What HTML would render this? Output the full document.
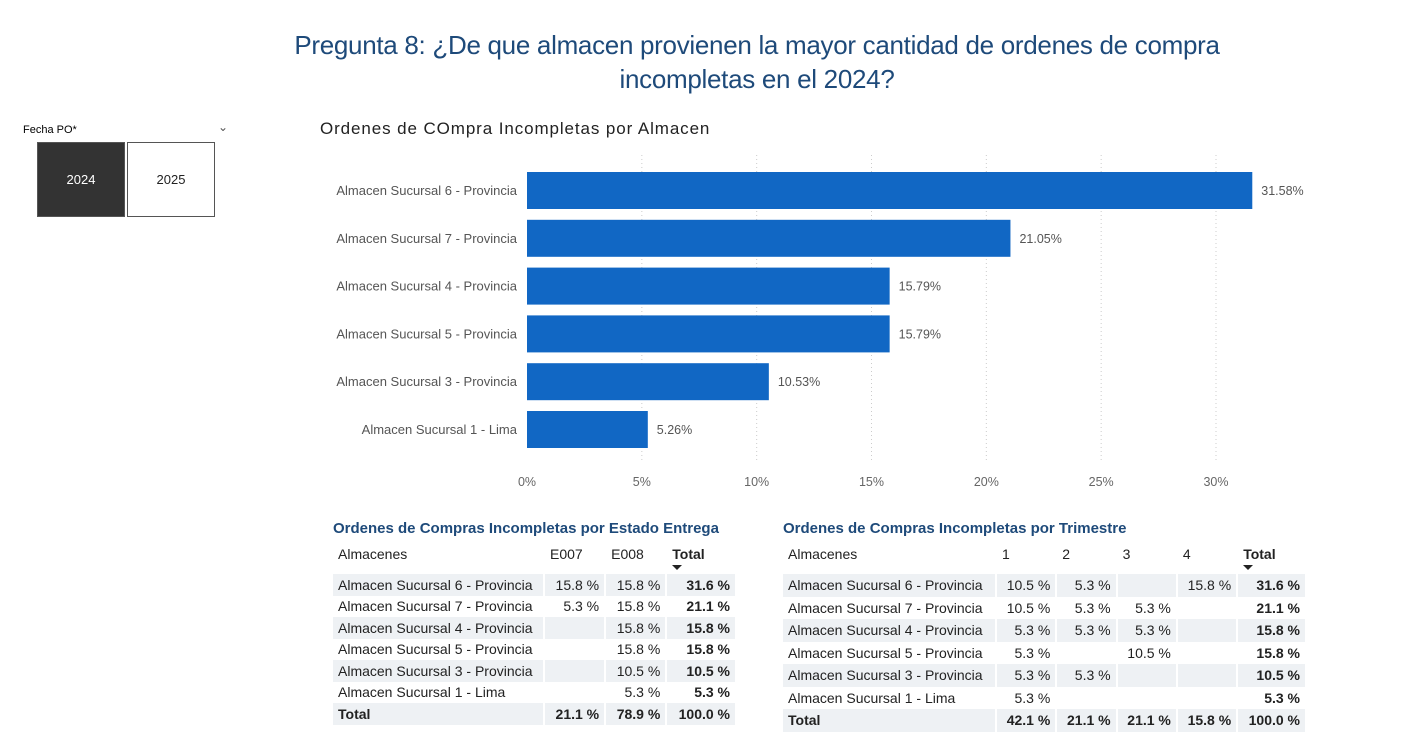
<!DOCTYPE html>
<html><head><meta charset="utf-8"><style>
body{margin:0;width:1415px;height:747px;background:#fff;font-family:"Liberation Sans",sans-serif;position:relative;overflow:hidden}
.abs{position:absolute}
h1{position:absolute;left:240px;width:1034px;top:28px;margin:0;text-align:center;font-weight:normal;font-size:26px;line-height:34px;color:#1e4a7a;letter-spacing:-0.3px}
.slbtn{position:absolute;top:142px;width:86px;height:73px;border:1px solid #555;display:flex;align-items:center;justify-content:center;font-size:13px}
table{position:absolute;border-collapse:collapse;font-size:14px;color:#222}
td{padding:0 5px;white-space:nowrap;text-align:right;border-right:2px solid #fff}
td:first-child{text-align:left}
tr.s td{background:#eef1f4}
tr.h td{height:28px;vertical-align:top;padding-top:2px}
.b{font-weight:bold}
.tt{position:absolute;font-weight:bold;font-size:15px;color:#1e4a7a}
.arr{display:block;width:0;height:0;border-left:5px solid transparent;border-right:5px solid transparent;border-top:5px solid #222;margin-top:3px}
</style></head><body>
<h1>Pregunta 8: ¿De que almacen provienen la mayor cantidad de ordenes de compra incompletas en el 2024?</h1>
<div class="abs" style="left:23px;top:124px;font-size:11px">Fecha PO*</div>
<div class="abs" style="left:218px;top:120px;font-size:12px;color:#555">&#8964;</div>
<div class="slbtn" style="left:37px;background:#333;color:#fff">2024</div>
<div class="slbtn" style="left:127px;background:#fff;color:#222">2025</div>
<div class="abs" style="left:320px;top:119px;font-size:17px;color:#222;letter-spacing:0.9px">Ordenes de COmpra Incompletas por Almacen</div>
<svg class="abs" style="left:0;top:0" width="1415" height="500" id="ch"></svg>
<script>
const cats=["Almacen Sucursal 6 - Provincia","Almacen Sucursal 7 - Provincia","Almacen Sucursal 4 - Provincia","Almacen Sucursal 5 - Provincia","Almacen Sucursal 3 - Provincia","Almacen Sucursal 1 - Lima"];
const vals=[31.58,21.05,15.79,15.79,10.53,5.26];
const ticks=[0,5,10,15,20,25,30];
const NS="http://www.w3.org/2000/svg";
const svg=document.getElementById('ch');
const x=v=>527+v*(1216-527)/30;
const y=i=>172+i*47.8;
function mk(t,a,txt){const e=document.createElementNS(NS,t);for(const k in a)e.setAttribute(k,a[k]);if(txt!=null)e.textContent=txt;svg.appendChild(e);return e;}
ticks.forEach(t=>{
 if(t>0){const g=mk('line',{x1:x(t),x2:x(t),y1:155,y2:462,stroke:'#ccc','stroke-dasharray':'1,3'});
 
 }
 const l=mk('text',{x:x(t),y:486,'text-anchor':'middle','font-size':12.5,fill:'#666'},t+'%');
 
 
});
cats.forEach((c,i)=>{
 const l=mk('text',{x:517,y:y(i)+23,'text-anchor':'end','font-size':13,fill:'#555'},c);
 
 
 const r=mk('rect',{x:x(0),y:y(i),width:x(vals[i])-x(0),height:37,fill:'#1167c4'});
 
 
 const v=mk('text',{x:x(vals[i])+9,y:y(i)+23,'font-size':12.5,fill:'#555'},vals[i].toFixed(2)+'%');
 
 
});
</script>
<div class="tt" style="left:333px;top:520px">Ordenes de Compras Incompletas por Estado Entrega</div>
<table style="left:333px;top:544px;width:404px">
<tr class="h"><td style="width:200px">Almacenes</td><td style="text-align:left">E007</td><td style="text-align:left">E008</td><td class="b" style="text-align:left">Total<span class="arr"></span></td></tr>
<tr class="s" style="height:21.5px"><td>Almacen Sucursal 6 - Provincia</td><td>15.8 %</td><td>15.8 %</td><td class="b">31.6 %</td></tr>
<tr style="height:21.5px"><td>Almacen Sucursal 7 - Provincia</td><td>5.3 %</td><td>15.8 %</td><td class="b">21.1 %</td></tr>
<tr class="s" style="height:21.5px"><td>Almacen Sucursal 4 - Provincia</td><td></td><td>15.8 %</td><td class="b">15.8 %</td></tr>
<tr style="height:21.5px"><td>Almacen Sucursal 5 - Provincia</td><td></td><td>15.8 %</td><td class="b">15.8 %</td></tr>
<tr class="s" style="height:21.5px"><td>Almacen Sucursal 3 - Provincia</td><td></td><td>10.5 %</td><td class="b">10.5 %</td></tr>
<tr style="height:21.5px"><td>Almacen Sucursal 1 - Lima</td><td></td><td>5.3 %</td><td class="b">5.3 %</td></tr>
<tr class="s b" style="height:21.5px"><td>Total</td><td>21.1 %</td><td>78.9 %</td><td>100.0 %</td></tr>
</table>
<div class="tt" style="left:783px;top:520px">Ordenes de Compras Incompletas por Trimestre</div>
<table style="left:783px;top:544px;width:524px">
<tr class="h"><td style="width:202px">Almacenes</td><td style="text-align:left">1</td><td style="text-align:left">2</td><td style="text-align:left">3</td><td style="text-align:left">4</td><td class="b" style="text-align:left">Total<span class="arr"></span></td></tr>
<tr class="s" style="height:22.5px"><td>Almacen Sucursal 6 - Provincia</td><td>10.5 %</td><td>5.3 %</td><td></td><td>15.8 %</td><td class="b">31.6 %</td></tr>
<tr style="height:22.5px"><td>Almacen Sucursal 7 - Provincia</td><td>10.5 %</td><td>5.3 %</td><td>5.3 %</td><td></td><td class="b">21.1 %</td></tr>
<tr class="s" style="height:22.5px"><td>Almacen Sucursal 4 - Provincia</td><td>5.3 %</td><td>5.3 %</td><td>5.3 %</td><td></td><td class="b">15.8 %</td></tr>
<tr style="height:22.5px"><td>Almacen Sucursal 5 - Provincia</td><td>5.3 %</td><td></td><td>10.5 %</td><td></td><td class="b">15.8 %</td></tr>
<tr class="s" style="height:22.5px"><td>Almacen Sucursal 3 - Provincia</td><td>5.3 %</td><td>5.3 %</td><td></td><td></td><td class="b">10.5 %</td></tr>
<tr style="height:22.5px"><td>Almacen Sucursal 1 - Lima</td><td>5.3 %</td><td></td><td></td><td></td><td class="b">5.3 %</td></tr>
<tr class="s b" style="height:22.5px"><td>Total</td><td>42.1 %</td><td>21.1 %</td><td>21.1 %</td><td>15.8 %</td><td>100.0 %</td></tr>
</table>
</body></html>
